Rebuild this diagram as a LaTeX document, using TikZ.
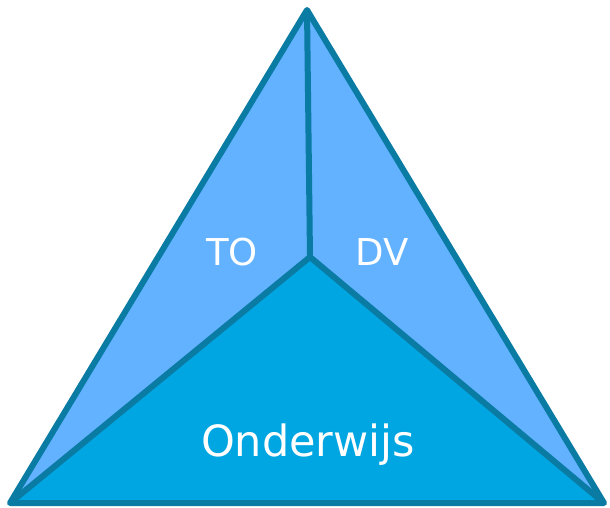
\documentclass[tikz,border=0pt]{standalone}
\usepackage{fontspec}
\setmainfont{DejaVu Sans}
\definecolor{lightb}{HTML}{62B2FF}
\definecolor{baseb}{HTML}{00A6E2}
\definecolor{edge}{HTML}{0A7BA3}
\begin{document}
\begin{tikzpicture}[x=1pt,y=-1pt,
  face/.style={draw=edge,line width=6pt,line join=round},
  lbl/.style={text=white,inner sep=0pt}]
\useasboundingbox (0,0) rectangle (610,508);
\coordinate (A) at (307,10);
\coordinate (L) at (10,503);
\coordinate (R) at (604,503);
\coordinate (C) at (310,257);
\fill[lightb] (A) -- (L) -- (R) -- cycle;
\fill[baseb] (C) -- (L) -- (R) -- cycle;
\draw[face] (A) -- (L) -- (R) -- cycle;
\draw[face] (A) -- (C);
\draw[face] (L) -- (C) -- (R);
\node[lbl,font=\fontsize{37}{42}\selectfont] (to) at (232,252) {TO};
\node[lbl,font=\fontsize{37}{42}\selectfont] (dv) at (382,252) {DV};
\node[lbl,font=\fontsize{43}{48}\selectfont] (ow) at (308,445) {Onderwijs};
\end{tikzpicture}
\end{document}
